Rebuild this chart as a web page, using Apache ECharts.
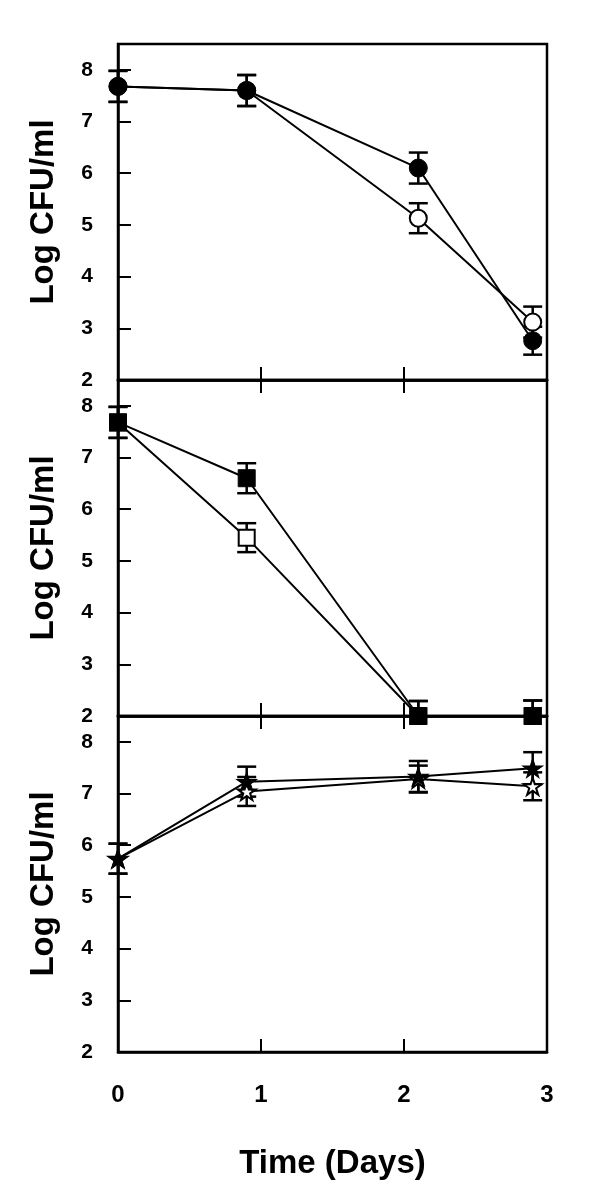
<!DOCTYPE html>
<html><head><meta charset="utf-8">
<script src="https://cdn.jsdelivr.net/npm/echarts@6/dist/echarts.min.js"></script>
<style>html,body{margin:0;padding:0;background:#fff}#c{width:600px;height:1198px}</style>
</head><body><div id="c"></div>
<script>
// ---- data ----
const days = [0, 0.9, 2.1, 2.9];
const xTickLabels = [0, 1, 2, 3];
const yTickLabels = [2, 3, 4, 5, 6, 7, 8];
const xTitle = 'Time (Days)';
const yTitle = 'Log CFU/ml';

const topOpen = [7.68, 7.60, 5.13, 3.12];
const topOpenErr = [0.30, 0.30, 0.29, 0.30];
const topFilled = [7.68, 7.60, 6.10, 2.76];
const topFilledErr = [0.30, 0.30, 0.30, 0.27];

const midOpen = [7.68, 5.45, 2.0, 2.0];
const midOpenErr = [0.30, 0.28, 0.29, 0.30];
const midFilled = [7.68, 6.60, 2.0, 2.0];
const midFilledErr = [0.30, 0.29, 0.29, 0.30];

const botOpen = [5.74, 7.04, 7.28, 7.14];
const botOpenErr = [0.29, 0.28, 0.26, 0.27];
const botFilled = [5.74, 7.23, 7.33, 7.49];
const botFilledErr = [0.29, 0.29, 0.30, 0.31];

// ---- styling / layout ----
const FONT = '"Liberation Sans", Arial, Helvetica, sans-serif';
const STAR = 'path://M100,0 L122.45,69.1 L195.1,69.1 L136.3,111.8 L158.8,180.9 L100,138.2 L41.2,180.9 L63.7,111.8 L4.9,69.1 L77.55,69.1 Z';
const Y_MIN = 2, Y_MAX = 8.5;

const panels = [
  { top: 44, open: topOpen, openErr: topOpenErr, filled: topFilled, filledErr: topFilledErr, sym: 'circle', size: 18, openSize: 17, topTicks: false, xLabels: false },
  { top: 380, open: midOpen, openErr: midOpenErr, filled: midFilled, filledErr: midFilledErr, sym: 'rect', size: 17, openSize: 16, topTicks: true, xLabels: false },
  { top: 716, open: botOpen, openErr: botOpenErr, filled: botFilled, filledErr: botFilledErr, sym: STAR, size: [20, 19], openSize: [18, 17], topTicks: true, xLabels: true }
];
const PANEL_H = 336;

const grids = [], xAxes = [], yAxes = [], series = [];

function errRender(params, api) {
  const x = api.value(0), y = api.value(1), e = api.value(2);
  const lo = Math.max(Y_MIN, y - e), hi = y + e;
  const pHi = api.coord([x, hi]);
  const pLo = api.coord([x, lo]);
  const w = 9.5;
  const st = { stroke: '#000', lineWidth: 2.5 };
  const children = [
    { type: 'line', shape: { x1: pHi[0], y1: pHi[1], x2: pLo[0], y2: pLo[1] }, style: st },
    { type: 'line', shape: { x1: pHi[0] - w, y1: pHi[1], x2: pHi[0] + w, y2: pHi[1] }, style: st }
  ];
  if (y - e >= Y_MIN) {
    children.push({ type: 'line', shape: { x1: pLo[0] - w, y1: pLo[1], x2: pLo[0] + w, y2: pLo[1] }, style: st });
  }
  return { type: 'group', children };
}

panels.forEach((p, i) => {
  grids.push({ left: 118, right: 53, top: p.top, height: PANEL_H, show: true, borderColor: '#000', borderWidth: 2.5, backgroundColor: 'transparent' });
  const bottomIdx = xAxes.length;
  xAxes.push({
    type: 'value', gridIndex: i, position: 'bottom', min: 0, max: 3, interval: 1,
    axisLine: { show: true, lineStyle: { color: '#000', width: 2.5 } },
    axisTick: { show: true, inside: true, length: 13, lineStyle: { color: '#000', width: 2 } },
    axisLabel: { show: p.xLabels, margin: 31, fontSize: 24, fontWeight: 'bold', color: '#000', fontFamily: FONT, customValues: xTickLabels },
    splitLine: { show: false },
    name: p.xLabels ? xTitle : '', nameLocation: 'middle', nameGap: 95,
    nameTextStyle: { fontSize: 33, fontWeight: 'bold', color: '#000', fontFamily: FONT }
  });
  if (p.topTicks) {
    xAxes.push({
      type: 'value', gridIndex: i, position: 'top', min: 0, max: 3, interval: 1,
      axisLine: { show: true, lineStyle: { color: '#000', width: 2.5 } },
      axisTick: { show: true, inside: true, length: 13, lineStyle: { color: '#000', width: 2 } },
      axisLabel: { show: false }, splitLine: { show: false }
    });
  }
  yAxes.push({
    type: 'value', gridIndex: i, min: Y_MIN, max: Y_MAX,
    axisLine: { show: true, lineStyle: { color: '#000', width: 2.5 } },
    axisTick: { show: true, inside: true, length: 13, lineStyle: { color: '#000', width: 2 }, customValues: yTickLabels },
    axisLabel: { margin: 25, fontSize: 21, fontWeight: 'bold', color: '#000', fontFamily: FONT, customValues: yTickLabels },
    splitLine: { show: false },
    name: yTitle, nameLocation: 'middle', nameGap: 58, nameRotate: 90,
    nameTextStyle: { fontSize: 33, fontWeight: 'bold', color: '#000', fontFamily: FONT }
  });

  const mk = (vals, errs) => days.map((d, k) => [d, vals[k], errs[k]]);
  [[p.open, p.openErr], [p.filled, p.filledErr]].forEach(([v, e]) => {
    series.push({
      type: 'custom', xAxisIndex: bottomIdx, yAxisIndex: i, renderItem: errRender,
      data: mk(v, e), encode: { x: 0, y: 1 }, z: 1, silent: true
    });
  });
  series.push({
    type: 'line', xAxisIndex: bottomIdx, yAxisIndex: i, clip: false, z: 3,
    data: days.map((d, k) => [d, p.open[k]]),
    symbol: p.sym, symbolSize: p.openSize, showAllSymbol: true,
    lineStyle: { color: '#000', width: 2 },
    itemStyle: { color: '#fff', borderColor: '#000', borderWidth: 2 }
  });
  series.push({
    type: 'line', xAxisIndex: bottomIdx, yAxisIndex: i, clip: false, z: 4,
    data: days.map((d, k) => [d, p.filled[k]]),
    symbol: p.sym, symbolSize: p.size, showAllSymbol: true,
    lineStyle: { color: '#000', width: 2 },
    itemStyle: { color: '#000', borderColor: '#000', borderWidth: 1 }
  });
});

const chart = echarts.init(document.getElementById('c'), null, { renderer: 'canvas' });
chart.setOption({
  animation: false,
  backgroundColor: '#fff',
  grid: grids, xAxis: xAxes, yAxis: yAxes, series: series
});
</script>
</body></html>
